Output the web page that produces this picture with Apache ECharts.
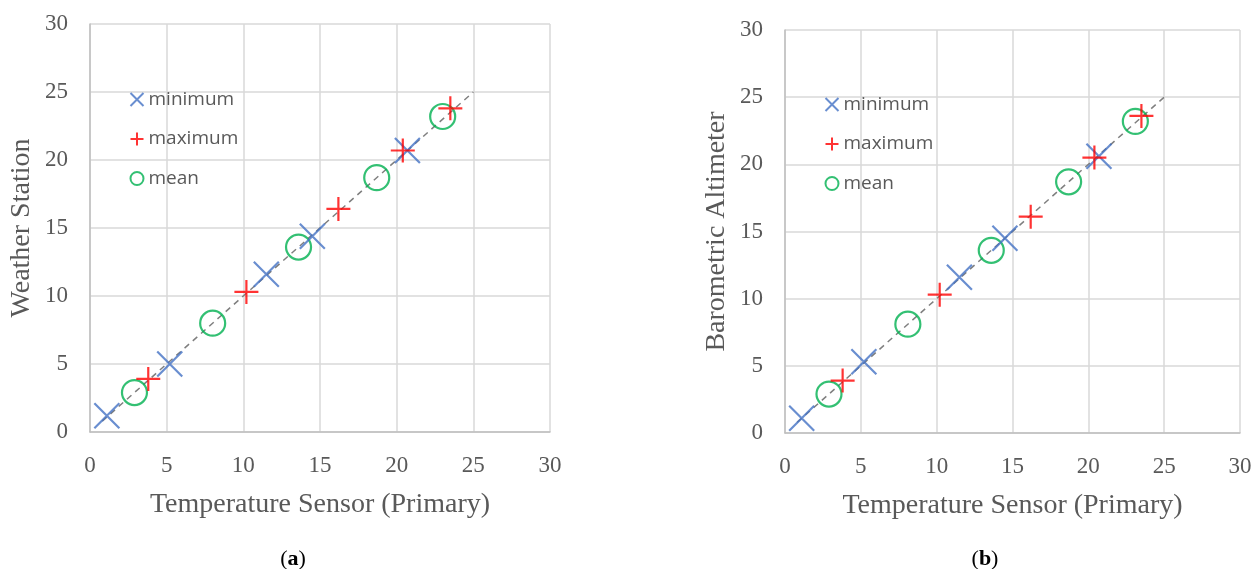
<!DOCTYPE html>
<html>
<head>
<meta charset="utf-8">
<script src="https://cdn.jsdelivr.net/npm/echarts@6.0.0/dist/echarts.min.js"></script>
<style>
    html, body { margin: 0; padding: 0; background: #fff; }
    #chart { width: 1256px; height: 569px; }
</style>
</head>
<body>
<div id="chart"></div>
<script>
(function() {
    'use strict';

    // (a) Weather Station vs Temperature Sensor
    var minimumA = [[1.1, 1.2], [5.2, 5.0], [11.5, 11.6], [14.5, 14.4], [20.7, 20.7]];
    var maximumA = [[3.8, 3.9], [10.2, 10.3], [16.2, 16.4], [20.4, 20.7], [23.5, 23.8]];
    var meanA = [[2.9, 2.9], [8.0, 8.0], [13.6, 13.6], [18.7, 18.7], [23.0, 23.2]];

    // (b) Barometric Altimeter vs Temperature Sensor
    var minimumB = [[1.1, 1.1], [5.2, 5.3], [11.5, 11.6], [14.5, 14.5], [20.7, 20.6]];
    var maximumB = [[3.8, 3.9], [10.2, 10.3], [16.2, 16.1], [20.4, 20.5], [23.5, 23.6]];
    var meanB = [[2.9, 2.9], [8.1, 8.1], [13.6, 13.6], [18.7, 18.7], [23.1, 23.2]];

    // 1:1 reference line
    var identity = [[0.8, 0.8], [25, 25]];

    var xName = 'Temperature Sensor (Primary)';
    var yNames = ['Weather Station', 'Barometric Altimeter'];
    var names = ['minimum', 'maximum', 'mean'];

    var crossPath = 'path://M0,0L10,10M10,0L0,10';
    var plusPath = 'path://M5,0L5,10M0,5L10,5';
    var blue = '#4472C4', red = '#FF0000', green = '#00B050';
    var serif = '"Liberation Serif", "DejaVu Serif", serif';
    var sans = '"Open Sans", "Noto Sans", sans-serif';

    function axis(name, gap) {
        return {
            type: 'value',
            min: 0,
            max: 30,
            interval: 5,
            name: name,
            nameLocation: 'middle',
            nameGap: gap,
            nameTextStyle: { fontFamily: serif, fontSize: 28, color: '#595959' },
            axisLine: { show: true, lineStyle: { color: '#BFBFBF', width: 1.5 } },
            axisTick: { show: false },
            axisLabel: { fontFamily: serif, fontSize: 23, color: '#595959', margin: 22 },
            splitLine: { show: true, lineStyle: { color: '#D9D9D9', width: 1.5 } }
        };
    }

    function legendFor(left, top) {
        return {
            orient: 'vertical',
            left: left,
            top: top,
            itemWidth: 13,
            itemHeight: 13,
            itemGap: 20.5,
            textStyle: { fontFamily: sans, fontSize: 19, color: '#595959' },
            data: [
                { name: 'minimum', icon: crossPath, itemStyle: { color: 'none', borderColor: blue, borderWidth: 2 } },
                { name: 'maximum', icon: plusPath, itemStyle: { color: 'none', borderColor: red, borderWidth: 2 } },
                { name: 'mean', icon: 'circle', itemStyle: { color: 'none', borderColor: green, borderWidth: 2 } }
            ]
        };
    }

    function seriesFor(idx, minData, maxData, meanData) {
        return [{
            type: 'line',
            xAxisIndex: idx,
            yAxisIndex: idx,
            data: identity,
            symbol: 'none',
            silent: true,
            z: 1,
            lineStyle: { color: '#7F7F7F', width: 1.5, type: [6, 5] }
        }, {
            name: names[0],
            type: 'scatter',
            xAxisIndex: idx,
            yAxisIndex: idx,
            data: minData,
            symbol: crossPath,
            symbolSize: 25,
            z: 3,
            itemStyle: { color: 'none', borderColor: blue, borderWidth: 2.2 }
        }, {
            name: names[1],
            type: 'scatter',
            xAxisIndex: idx,
            yAxisIndex: idx,
            data: maxData,
            symbol: plusPath,
            symbolSize: 24,
            z: 3,
            itemStyle: { color: 'none', borderColor: red, borderWidth: 2.2 }
        }, {
            name: names[2],
            type: 'scatter',
            xAxisIndex: idx,
            yAxisIndex: idx,
            data: meanData,
            symbol: 'circle',
            symbolSize: 25,
            z: 2,
            itemStyle: { color: 'none', borderColor: green, borderWidth: 2.2 }
        }];
    }

    function caption(letter, left) {
        return {
            text: '{p|(}{b|' + letter + '}{p|)}',
            left: left,
            top: 543,
            textAlign: 'center',
            textStyle: {
                rich: {
                    p: { fontFamily: serif, fontSize: 22, fontWeight: 'normal', color: '#000' },
                    b: { fontFamily: serif, fontSize: 22, fontWeight: 'bold', color: '#000' }
                }
            }
        };
    }

    var option = {
        backgroundColor: '#fff',
        animation: false,
        title: [caption('a', 288), caption('b', 980)],
        legend: [legendFor(123, 85), legendFor(818, 90)],
        grid: [
            { left: 90, top: 24, width: 460, height: 408 },
            { left: 785, top: 30, width: 455, height: 403 }
        ],
        xAxis: [axis(xName, 59), axis(xName, 59)],
        yAxis: [axis(yNames[0], 54), axis(yNames[1], 54)],
        series: seriesFor(0, minimumA, maximumA, meanA).concat(seriesFor(1, minimumB, maximumB, meanB))
    };
    option.xAxis[1].gridIndex = 1;
    option.yAxis[1].gridIndex = 1;

    var myChart = echarts.init(document.getElementById('chart'));
    myChart.setOption(option);
})();
</script>
</body>
</html>
